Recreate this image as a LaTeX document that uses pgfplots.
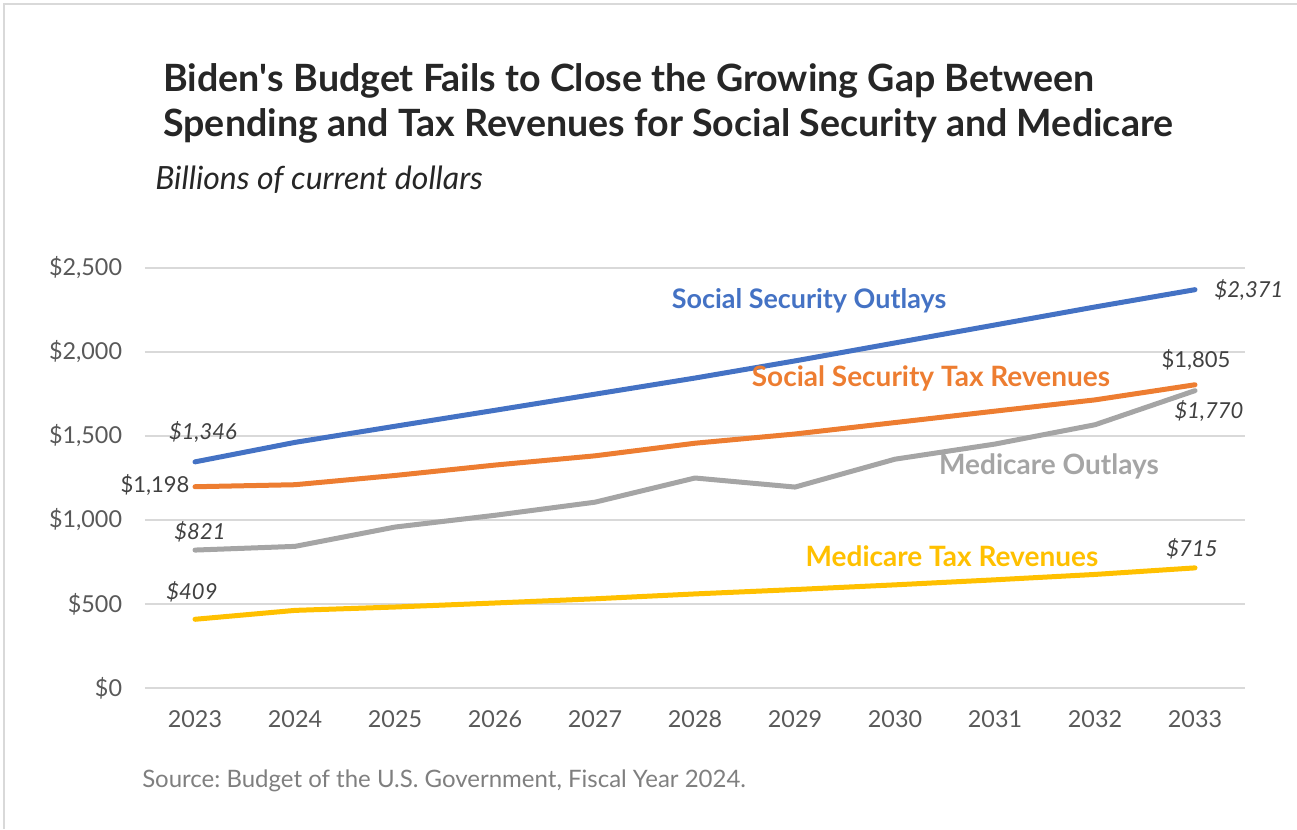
\documentclass[border=0pt]{standalone}
\usepackage{pgfplots}
\pgfplotsset{compat=1.18}
\usepackage{fontspec}
\setmainfont{Lato}
\frenchspacing
\definecolor{ssblue}{HTML}{4472C4}
\definecolor{ssorange}{HTML}{ED7D31}
\definecolor{mgray}{HTML}{A5A5A5}
\definecolor{mgold}{HTML}{FFC000}
\definecolor{gridgray}{HTML}{D9D9D9}
\definecolor{titlecol}{HTML}{262626}
\definecolor{tickcol}{HTML}{595959}
\definecolor{labcol}{HTML}{404040}
\definecolor{srccol}{HTML}{7F7F7F}
\begin{document}
\begin{tikzpicture}
\path[use as bounding box] (0,0) rectangle (972.75pt,621.75pt);
\draw[color=gridgray, line width=1.5pt] (3pt,0) -- (3pt,618.75pt) -- (972.75pt,618.75pt);
\node[anchor=base west, text=titlecol, font=\fontsize{28.2}{32}\selectfont\bfseries, inner sep=0] at (122.25pt,552.75pt) {Biden\textquotesingle s Budget Fails to Close the Growing Gap Between};
\node[anchor=base west, text=titlecol, font=\fontsize{28.2}{32}\selectfont\bfseries, inner sep=0] at (122.25pt,519pt) {Spending and Tax Revenues for Social Security and Medicare};
\node[anchor=base west, text=titlecol, font=\fontsize{24}{28}\selectfont\itshape, inner sep=0] at (116.25pt,479.25pt) {Billions of current dollars};
\node[anchor=base west, text=srccol, font=\fontsize{18}{21}\selectfont, inner sep=0] at (106.5pt,31pt) {Source: Budget of the U.S. Government, Fiscal Year 2024.};
\begin{axis}[
  at={(108.75pt,105.75pt)}, anchor=south west,
  scale only axis, width=825pt, height=315pt,
  xmin=2022.5, xmax=2033.5, ymin=0, ymax=2500,
  axis line style={draw=none},
  ymajorgrids, grid style={gridgray, line width=1.5pt},
  ytick={0,500,1000,1500,2000,2500},
  yticklabels={{\$0},{\$500},{\$1,000},{\$1,500},{\$2,000},{\$2,500}},
  xtick={2023,2024,2025,2026,2027,2028,2029,2030,2031,2032,2033},
  xticklabels={2023,2024,2025,2026,2027,2028,2029,2030,2031,2032,2033},
  major tick length=0pt,
  tick label style={font=\fontsize{17.5}{20}\selectfont, text=tickcol, inner sep=0pt},
  yticklabel style={anchor=east, xshift=-17pt},
  xticklabel style={anchor=north, yshift=-17pt},
  clip=false,
  every axis plot/.append style={line width=3.75pt, line cap=round, line join=round, mark=none},
]
\addplot[ssblue] coordinates {(2023,1346) (2024,1462) (2025,1558) (2026,1653) (2027,1749) (2028,1845) (2029,1947) (2030,2054) (2031,2161) (2032,2268) (2033,2371)};
\addplot[ssorange] coordinates {(2023,1198) (2024,1210) (2025,1265) (2026,1327) (2027,1382) (2028,1457) (2029,1512) (2030,1580) (2031,1648) (2032,1715) (2033,1805)};
\addplot[mgray] coordinates {(2023,821) (2024,843) (2025,958) (2026,1028) (2027,1106) (2028,1250) (2029,1196) (2030,1362) (2031,1452) (2032,1567) (2033,1770)};
\addplot[mgold] coordinates {(2023,409) (2024,462) (2025,482) (2026,506) (2027,531) (2028,560) (2029,586) (2030,614) (2031,644) (2032,676) (2033,715)};
\begin{scope}[every node/.style={font=\fontsize{21}{24}\selectfont\bfseries, inner sep=0pt}]
\node[text=ssblue, font=\fontsize{20.2}{24}\selectfont\bfseries] at (axis cs:2029.14,2304) {Social Security Outlays};
\node[text=ssorange] at (axis cs:2030.36,1845) {Social Security Tax Revenues};
\node[text=mgray] at (axis cs:2031.54,1321) {Medicare Outlays};
\node[text=mgold] at (axis cs:2030.57,786) {Medicare Tax Revenues};
\end{scope}
\begin{scope}[every node/.style={font=\fontsize{16.5}{19}\selectfont, text=labcol, inner sep=0pt}]
\node[font=\fontsize{16.5}{19}\selectfont\itshape] at (axis cs:2023.08,1524) {\$1,346};
\node at (axis cs:2022.6,1208) {\$1,198};
\node[font=\fontsize{16.5}{19}\selectfont\itshape] at (axis cs:2023.05,929) {\$821};
\node[font=\fontsize{16.5}{19}\selectfont\itshape] at (axis cs:2022.97,571) {\$409};
\node[font=\fontsize{16.5}{19}\selectfont\itshape] at (axis cs:2033.54,2369) {\$2,371};
\node at (axis cs:2033.01,1952) {\$1,805};
\node[font=\fontsize{16.5}{19}\selectfont\itshape] at (axis cs:2033.14,1649) {\$1,770};
\node[font=\fontsize{16.5}{19}\selectfont\itshape] at (axis cs:2032.97,827) {\$715};
\end{scope}
\end{axis}
\end{tikzpicture}
\end{document}
